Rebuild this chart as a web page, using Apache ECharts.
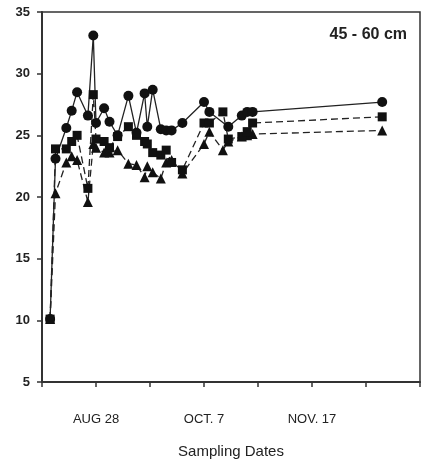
<!DOCTYPE html>
<html>
<head>
<meta charset="utf-8">
<script src="https://cdn.jsdelivr.net/npm/echarts@6/dist/echarts.min.js"></script>
<style>html,body{margin:0;padding:0;background:#fff}#c{width:424px;height:468px}</style>
</head>
<body>
<div id="c"></div>
<script>
// Sampling day (days after Aug 8)
var days = [3,5,9,11,13,17,19,20,23,25,28,32,35,38,39,41,44,46,48,52,60,62,67,69,74,76,78,126];
var circleVals = [10.1,23.1,25.6,27.0,28.5,26.6,33.1,26.0,27.2,26.1,25.0,28.2,25.2,28.4,25.7,28.7,25.5,25.4,25.4,26.0,27.7,26.9,null,25.7,26.6,26.9,26.9,27.7];
var squareVals = [10.1,23.9,23.9,24.5,25.0,20.7,28.3,24.7,24.5,24.0,24.9,25.7,25.0,24.5,24.3,23.6,23.4,23.8,22.8,22.2,26.0,26.0,26.9,24.7,24.9,25.3,26.0,26.5];
var triangleVals = [10.1,20.3,22.8,23.3,23.0,19.6,24.3,24.0,23.6,23.6,23.8,22.7,22.6,21.6,22.5,22.0,21.5,22.8,23.0,21.9,24.3,25.3,23.8,24.5,24.9,25.0,25.1,25.4];
var xLabelDays = [20,60,100];
var xLabelTexts = ['AUG 28','OCT. 7','NOV. 17'];
var yTicks = [5,10,15,20,25,30,35];
var panelLabel = '45 - 60 cm';

function pairs(vals){ return days.map(function(d,i){ return [d, vals[i]]; }); }

var chart = echarts.init(document.getElementById('c'), null, {renderer:'canvas'});
var font = 'Liberation Sans, Arial, sans-serif';
chart.setOption({
  animation:false,
  backgroundColor:'#fff',
  grid:{left:42,top:12,right:4,bottom:86,show:true,borderColor:'#333',borderWidth:1.5,backgroundColor:'transparent'},
  title:{text:panelLabel,right:12,top:22,textStyle:{fontFamily:font,fontSize:16,fontWeight:'bold',color:'#222'}},
  xAxis:{type:'value',min:0,max:140,interval:20,
    name:'Sampling Dates',nameLocation:'middle',nameGap:62,
    nameTextStyle:{fontFamily:font,fontSize:15,color:'#222'},
    axisLine:{show:true,lineStyle:{color:'#333',width:2}},
    axisTick:{show:true,length:5,inside:false,lineStyle:{color:'#333',width:1.5}},
    splitLine:{show:false},
    axisLabel:{margin:31,fontFamily:font,fontSize:13,color:'#222',
      formatter:function(v){var i=xLabelDays.indexOf(v);return i>=0?xLabelTexts[i]:'';}}
  },
  yAxis:{type:'value',min:yTicks[0],max:yTicks[yTicks.length-1],interval:5,
    axisLine:{show:true,lineStyle:{color:'#333',width:2}},
    axisTick:{show:true,length:5,lineStyle:{color:'#333',width:1.5}},
    splitLine:{show:false},
    axisLabel:{margin:12,fontFamily:font,fontSize:13,fontWeight:'bold',color:'#222'}
  },
  series:[
    {type:'line',data:pairs(triangleVals),symbol:'triangle',symbolSize:10,connectNulls:true,
     itemStyle:{color:'#111'},lineStyle:{color:'#222',width:1.3,type:[7,4]}},
    {type:'line',data:pairs(squareVals),symbol:'rect',symbolSize:9,connectNulls:true,
     itemStyle:{color:'#111'},lineStyle:{color:'#222',width:1.3,type:[7,4]}},
    {type:'line',data:pairs(circleVals),symbol:'circle',symbolSize:10,connectNulls:true,
     itemStyle:{color:'#111'},lineStyle:{color:'#222',width:1.3,type:'solid'}}
  ]
});
</script>
</body>
</html>
